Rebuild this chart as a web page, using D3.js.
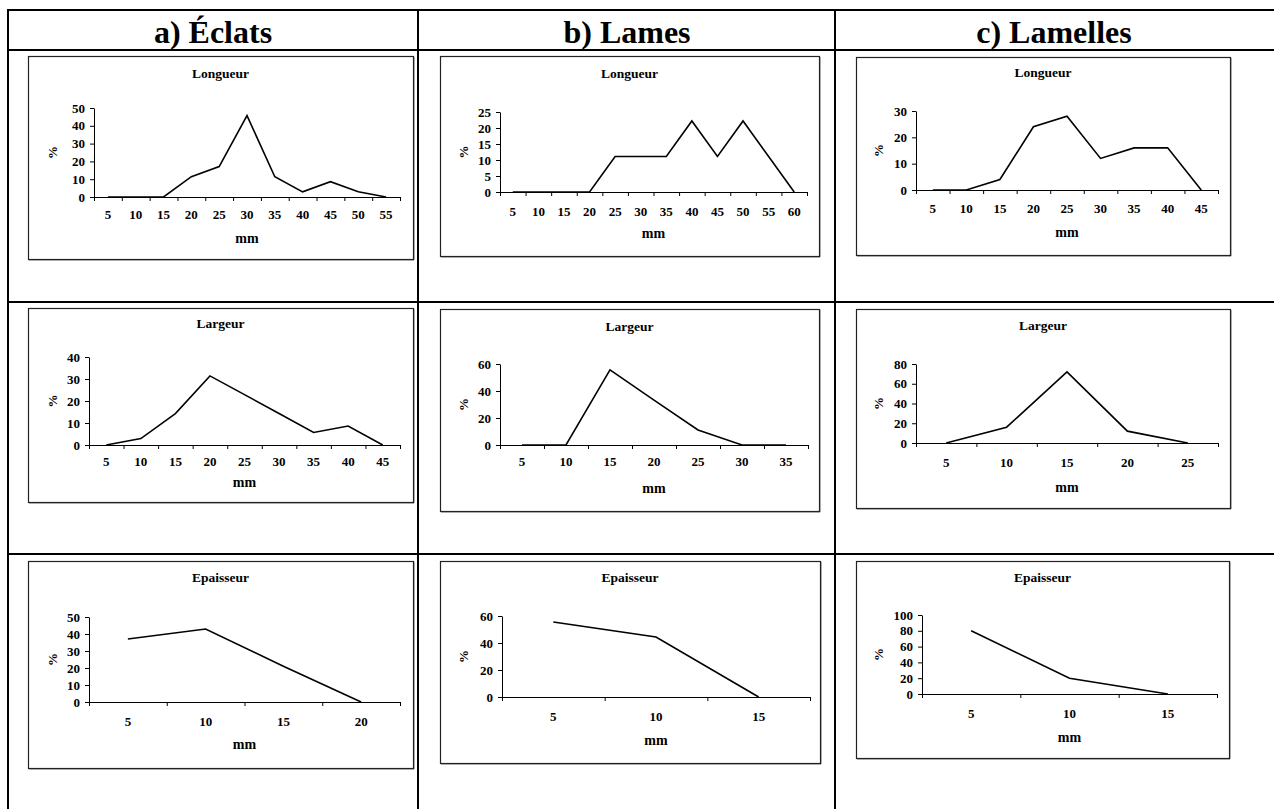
<!DOCTYPE html>
<html>
<head>
<meta charset="utf-8">
<script src="https://cdn.jsdelivr.net/npm/d3@7"></script>
<style>
    body { margin: 0; background: #fff; }
    svg text { font-family: "Liberation Serif", "DejaVu Serif", serif; font-weight: bold; }
</style>
</head>
<body>
<svg id="chart" width="1274" height="809"></svg>
<script>
// column headers and chart titles
var columnTitles = ["a) Éclats", "b) Lames", "c) Lamelles"];
var rowTitles = ["Longueur", "Largeur", "Epaisseur"];

// a) Eclats (n = 35)
var eclatsLongueurCats = [5, 10, 15, 20, 25, 30, 35, 40, 45, 50, 55];
var eclatsLongueurPct = [0, 0, 0, 11.4, 17.1, 45.7, 11.4, 2.9, 8.6, 2.9, 0];
var eclatsLongueurTicks = [0, 10, 20, 30, 40, 50];
var eclatsLargeurCats = [5, 10, 15, 20, 25, 30, 35, 40, 45];
var eclatsLargeurPct = [0, 2.9, 14.3, 31.4, 22.9, 14.3, 5.7, 8.6, 0];
var eclatsLargeurTicks = [0, 10, 20, 30, 40];
var eclatsEpaisseurCats = [5, 10, 15, 20];
var eclatsEpaisseurPct = [37.1, 42.9, 21, 0];
var eclatsEpaisseurTicks = [0, 10, 20, 30, 40, 50];

// b) Lames (n = 9)
var lamesLongueurCats = [5, 10, 15, 20, 25, 30, 35, 40, 45, 50, 55, 60];
var lamesLongueurPct = [0, 0, 0, 0, 11.1, 11.1, 11.1, 22.2, 11.1, 22.2, 11.1, 0];
var lamesLongueurTicks = [0, 5, 10, 15, 20, 25];
var lamesLargeurCats = [5, 10, 15, 20, 25, 30, 35];
var lamesLargeurPct = [0, 0, 55.6, 33.3, 11.1, 0, 0];
var lamesLargeurTicks = [0, 20, 40, 60];
var lamesEpaisseurCats = [5, 10, 15];
var lamesEpaisseurPct = [55.6, 44.4, 0];
var lamesEpaisseurTicks = [0, 20, 40, 60];

// c) Lamelles (n = 25)
var lamellesLongueurCats = [5, 10, 15, 20, 25, 30, 35, 40, 45];
var lamellesLongueurPct = [0, 0, 4, 24, 28, 12, 16, 16, 0];
var lamellesLongueurTicks = [0, 10, 20, 30];
var lamellesLargeurCats = [5, 10, 15, 20, 25];
var lamellesLargeurPct = [0, 16, 72, 12, 0];
var lamellesLargeurTicks = [0, 20, 40, 60, 80];
var lamellesEpaisseurCats = [5, 10, 15];
var lamellesEpaisseurPct = [80, 20, 0];
var lamellesEpaisseurTicks = [0, 20, 40, 60, 80, 100];

(function () {
    var FONT = "'Liberation Serif', 'DejaVu Serif', serif";
    var svg = d3.select("#chart");

    // page layout of the nine framed charts (box + plot area)
    var panels = [
        {col: 0, row: 0, cats: eclatsLongueurCats, vals: eclatsLongueurPct, ticks: eclatsLongueurTicks,
            box: [28, 56, 413, 259], plot: [94, 400, 108, 197], titleY: 73, labelY: 215, mmY: 238, pctX: 52},
        {col: 1, row: 0, cats: lamesLongueurCats, vals: lamesLongueurPct, ticks: lamesLongueurTicks,
            box: [440, 56, 819, 256], plot: [500, 807, 112, 192], titleY: 73, labelY: 212, mmY: 233, pctX: 463},
        {col: 2, row: 0, cats: lamellesLongueurCats, vals: lamellesLongueurPct, ticks: lamellesLongueurTicks,
            box: [856, 57, 1230, 255], plot: [916, 1218, 111, 190], titleY: 72, labelY: 209, mmY: 232, pctX: 878},
        {col: 0, row: 1, cats: eclatsLargeurCats, vals: eclatsLargeurPct, ticks: eclatsLargeurTicks,
            box: [28, 308, 413, 502], plot: [89, 400, 357, 445], titleY: 323, labelY: 462, mmY: 482, pctX: 52},
        {col: 1, row: 1, cats: lamesLargeurCats, vals: lamesLargeurPct, ticks: lamesLargeurTicks,
            box: [440, 309, 819, 511], plot: [500, 808, 364, 445], titleY: 326, labelY: 462, mmY: 488, pctX: 463},
        {col: 2, row: 1, cats: lamellesLargeurCats, vals: lamellesLargeurPct, ticks: lamellesLargeurTicks,
            box: [856, 309, 1230, 508], plot: [916, 1218, 364, 443], titleY: 325, labelY: 463, mmY: 487, pctX: 878},
        {col: 0, row: 2, cats: eclatsEpaisseurCats, vals: eclatsEpaisseurPct, ticks: eclatsEpaisseurTicks,
            box: [28, 561, 413, 768], plot: [89, 400, 617, 702], titleY: 577, labelY: 722, mmY: 744, pctX: 52},
        {col: 1, row: 2, cats: lamesEpaisseurCats, vals: lamesEpaisseurPct, ticks: lamesEpaisseurTicks,
            box: [440, 561, 820, 763], plot: [502, 810, 616, 697], titleY: 577, labelY: 717, mmY: 740, pctX: 463},
        {col: 2, row: 2, cats: lamellesEpaisseurCats, vals: lamellesEpaisseurPct, ticks: lamellesEpaisseurTicks,
            box: [856, 561, 1229, 758], plot: [922, 1217, 615, 694], titleY: 577, labelY: 714, mmY: 737, pctX: 878}
    ];

    //region table grid
    var hLines = [10, 50, 302, 554];
    var vLines = [8, 418, 835];
    var colCenters = [213, 627, 1054];

    hLines.forEach(function (y) {
        svg.append("line").attr("x1", 7).attr("x2", 1274).attr("y1", y).attr("y2", y)
            .attr("stroke", "#000").attr("stroke-width", 2);
    });
    vLines.forEach(function (x) {
        svg.append("line").attr("x1", x).attr("x2", x).attr("y1", 9).attr("y2", 809)
            .attr("stroke", "#000").attr("stroke-width", 2);
    });
    columnTitles.forEach(function (t, i) {
        svg.append("text").attr("x", colCenters[i]).attr("y", 43)
            .attr("text-anchor", "middle").attr("font-family", FONT).attr("font-weight", "bold")
            .attr("font-size", 32).text(t);
    });
    //endregion

    var _styleAxisText = function (sel) {
        sel.attr("font-family", FONT).attr("font-weight", "bold").attr("font-size", 13).attr("fill", "#000");
    };

    var _drawPanel = function (p) {
        var g = svg.append("g");
        var bx = p.box;

        // frame with a light drop shadow on right / bottom
        g.append("path")
            .attr("d", "M" + (bx[2] + 1) + "," + (bx[1] + 1) + "V" + (bx[3] + 1) + "H" + (bx[0] + 1))
            .attr("fill", "none").attr("stroke", "#777").attr("stroke-width", 1);
        g.append("rect")
            .attr("x", bx[0] + 0.5).attr("y", bx[1] + 0.5)
            .attr("width", bx[2] - bx[0]).attr("height", bx[3] - bx[1])
            .attr("fill", "#fff").attr("stroke", "#222").attr("stroke-width", 1.2);

        var pl = p.plot;
        var x = d3.scaleBand().domain(p.cats).range([pl[0], pl[1]]).paddingInner(0).paddingOuter(0);
        var xEdge = d3.scaleLinear().domain([0, p.cats.length]).range([pl[0], pl[1]]);
        var y = d3.scaleLinear().domain([0, d3.max(p.ticks)]).range([pl[3], pl[2]]);

        g.append("text")
            .attr("x", (bx[0] + bx[2]) / 2).attr("y", p.titleY)
            .attr("text-anchor", "middle").attr("dominant-baseline", "central")
            .attr("font-family", FONT).attr("font-weight", "bold").attr("font-size", 13.5)
            .text(rowTitles[p.row]);

        // x axis: ticks on category boundaries (Excel style), labels centred in each category
        var xTicks = g.append("g").attr("transform", "translate(0," + pl[3] + ")")
            .call(d3.axisBottom(xEdge).tickValues(d3.range(p.cats.length + 1)).tickFormat("").tickSize(4).tickSizeOuter(0));
        xTicks.selectAll("path, line").attr("stroke", "#000");

        var xLabels = g.append("g").attr("transform", "translate(0," + pl[3] + ")")
            .call(d3.axisBottom(x).tickSize(0).tickPadding(p.labelY - pl[3] - 4.8));
        xLabels.select(".domain").remove();
        _styleAxisText(xLabels.selectAll("text"));

        var yAxis = g.append("g").attr("transform", "translate(" + pl[0] + ",0)")
            .call(d3.axisLeft(y).tickValues(p.ticks).tickSize(4).tickSizeOuter(0).tickPadding(5));
        yAxis.selectAll("path, line").attr("stroke", "#000");
        _styleAxisText(yAxis.selectAll("text"));

        g.append("text")
            .attr("transform", "translate(" + p.pctX + "," + ((pl[2] + pl[3]) / 2) + ") rotate(-90)")
            .attr("text-anchor", "middle").attr("dominant-baseline", "central")
            .attr("font-family", FONT).attr("font-weight", "bold").attr("font-size", 13)
            .text("%");

        g.append("text")
            .attr("x", (pl[0] + pl[1]) / 2).attr("y", p.mmY)
            .attr("text-anchor", "middle").attr("dominant-baseline", "central")
            .attr("font-family", FONT).attr("font-weight", "bold").attr("font-size", 14)
            .text("mm");

        var pts = p.cats.map(function (c, i) { return {c: c, v: p.vals[i]}; });
        var line = d3.line()
            .x(function (d) { return x(d.c) + x.bandwidth() / 2; })
            .y(function (d) { return y(d.v); });
        g.append("path").datum(pts)
            .attr("d", line)
            .attr("fill", "none").attr("stroke", "#000").attr("stroke-width", 1.6)
            .attr("stroke-linejoin", "miter");
    };

    panels.forEach(_drawPanel);
})();
</script>
</body>
</html>
